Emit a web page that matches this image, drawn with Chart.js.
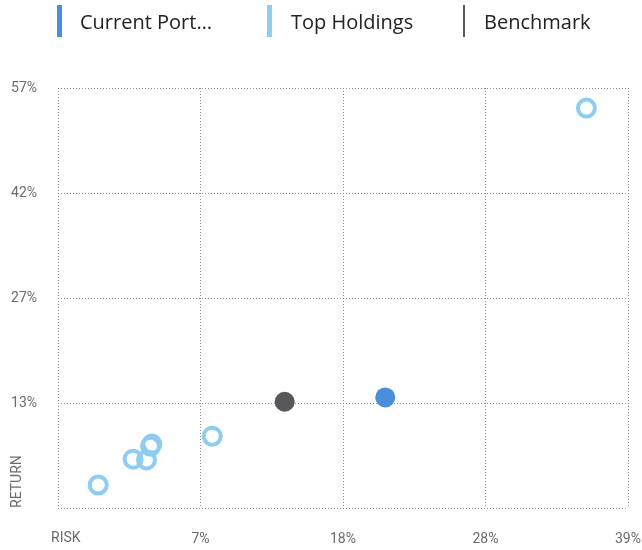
<!DOCTYPE html>
<html>
<head>
<meta charset="utf-8">
<script src="https://cdn.jsdelivr.net/npm/chart.js@4"></script>
<style>
  html, body { margin: 0; padding: 0; background: #fff; }
  #wrap { position: relative; width: 642px; height: 550px; }
  #legend { position: absolute; top: 0; left: 0; width: 642px; height: 45px; }
  .item { position: absolute; top: 5px; height: 32px; display: flex; align-items: center;
          font-family: 'Open Sans', sans-serif; font-size: 20px; color: #222; white-space: nowrap; }
  .item .bar { height: 32px; }
  canvas { position: absolute; top: 0; left: 0; }
</style>
</head>
<body>
<div id="wrap">
  <canvas id="chart" width="642" height="550"></canvas>
  <div id="legend"></div>
</div>
<script>
// ── Data ──
const seriesNames = ['Current Port…', 'Top Holdings', 'Benchmark'];

const currentRisk   = [20.9];
const currentReturn = [13.9];

const holdingsRisk   = [35.9, 8.0, 3.4, 3.5, 3.1, 2.1, -0.5];
const holdingsReturn = [54.2, 8.5, 7.1, 7.4, 5.2, 5.3, 1.7];

const benchRisk   = [13.4];
const benchReturn = [13.3];

const xTickValues = [-3.5, 7.125, 17.75, 28.375, 39];
const xTickLabels = ['', '7%', '18%', '28%', '39%'];
const yTickValues = [-1.5, 13.125, 27.75, 42.375, 57];
const yTickLabels = ['', '13%', '27%', '42%', '57%'];

const xTitle = 'RISK';
const yTitle = 'RETURN';

// ── Styling ──
const colors = { current: '#4a8fd9', holdings: '#8ecdf1', bench: '#58585c' };
const gridColor = '#8a8a8a';
const tickColor = '#6b6b6b';
const tickFont = { family: 'Roboto', size: 14 };

const toPoints = (xs, ys) => xs.map((x, i) => ({ x, y: ys[i] }));

// ── Legend (HTML) ──
const legendLeft = [57, 267, 463];
const legendBars = [
  { color: colors.current, width: 5, gap: 18 },
  { color: colors.holdings, width: 5, gap: 19 },
  { color: colors.bench, width: 2, gap: 19 },
];
const legendEl = document.getElementById('legend');
seriesNames.forEach((name, i) => {
  const item = document.createElement('div');
  item.className = 'item';
  item.style.left = legendLeft[i] + 'px';
  const bar = document.createElement('span');
  bar.className = 'bar';
  bar.style.width = legendBars[i].width + 'px';
  bar.style.background = legendBars[i].color;
  bar.style.marginRight = legendBars[i].gap + 'px';
  item.appendChild(bar);
  item.appendChild(document.createTextNode(name));
  legendEl.appendChild(item);
});

// ── Axis titles drawn at the origin corner ──
const axisTitles = {
  id: 'axisTitles',
  afterDraw(chart) {
    const { ctx, chartArea } = chart;
    ctx.save();
    ctx.fillStyle = tickColor;
    ctx.font = "14px Roboto, sans-serif";
    ctx.textBaseline = 'middle';
    ctx.textAlign = 'left';
    ctx.fillText(xTitle, chartArea.left - 7, 538);
    ctx.translate(17, chartArea.bottom);
    ctx.rotate(-Math.PI / 2);
    ctx.fillText(yTitle, 0, 0);
    ctx.restore();
  }
};

new Chart(document.getElementById('chart'), {
  type: 'scatter',
  data: {
    datasets: [
      {
        label: seriesNames[2],
        data: toPoints(benchRisk, benchReturn),
        backgroundColor: colors.bench,
        borderColor: colors.bench,
        borderWidth: 0,
        pointRadius: 10,
      },
      {
        label: seriesNames[0],
        data: toPoints(currentRisk, currentReturn),
        backgroundColor: colors.current,
        borderColor: colors.current,
        borderWidth: 0,
        pointRadius: 10,
      },
      {
        label: seriesNames[1],
        data: toPoints(holdingsRisk, holdingsReturn),
        backgroundColor: 'transparent',
        borderColor: colors.holdings,
        borderWidth: 4,
        pointRadius: 8.5,
      },
    ],
  },
  options: {
    responsive: false,
    animation: false,
    layout: { padding: { top: 88, right: 14, left: 0, bottom: 0 } },
    plugins: { legend: { display: false }, tooltip: { enabled: false } },
    scales: {
      x: {
        type: 'linear',
        min: xTickValues[0],
        max: xTickValues[xTickValues.length - 1],
        afterBuildTicks: s => { s.ticks = xTickValues.map(v => ({ value: v })); },
        afterFit: s => { s.height = 42; s.paddingRight = 0; s.paddingLeft = 0; },
        grid: { color: gridColor, drawTicks: false },
        border: { display: false, dash: [1, 2] },
        ticks: {
          padding: 23,
          color: tickColor,
          font: tickFont,
          maxRotation: 0,
          autoSkip: false,
          callback: (v, i) => xTickLabels[i],
        },
      },
      y: {
        type: 'linear',
        min: yTickValues[0],
        max: yTickValues[yTickValues.length - 1],
        afterBuildTicks: s => { s.ticks = yTickValues.map(v => ({ value: v })); },
        afterFit: s => { s.width = 58; s.paddingTop = 0; s.paddingBottom = 0; },
        grid: { color: gridColor, drawTicks: false },
        border: { display: false, dash: [1, 2] },
        ticks: {
          padding: 21,
          color: tickColor,
          font: tickFont,
          autoSkip: false,
          callback: (v, i) => yTickLabels[i],
        },
      },
    },
  },
  plugins: [axisTitles],
});
</script>
</body>
</html>
